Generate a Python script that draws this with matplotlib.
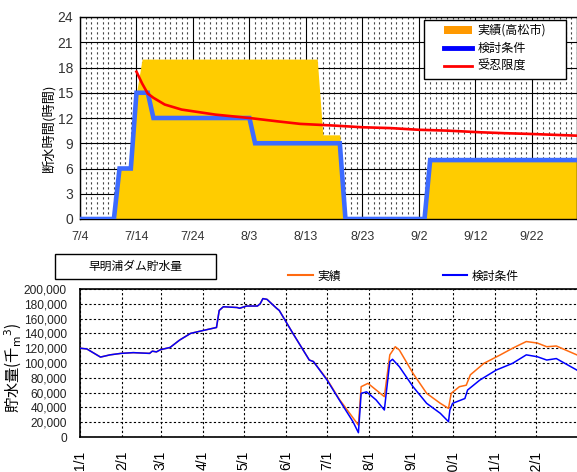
import matplotlib
matplotlib.use('Agg')
import matplotlib.pyplot as plt
from matplotlib import font_manager
from matplotlib.lines import Line2D
from matplotlib.patches import Patch, Rectangle

# 断水時間 (7/4 からの日数)
jisseki_day = [0, 6, 7, 9, 10, 11, 42, 43, 46, 47, 61, 62, 88]
jisseki_hour = [0, 0, 6, 6, 15, 19, 19, 10, 10, 0, 0, 7, 7]

kentou_day = [0, 6, 7, 9, 10, 12, 13, 30, 31, 46, 47, 61, 62, 88]
kentou_hour = [0, 0, 6, 6, 15, 15, 12, 12, 9, 9, 0, 0, 7, 7]

juninn_day = [10, 11, 12, 13, 14, 15, 16, 18, 21, 24, 27, 30, 35, 39, 45, 50, 55, 60, 65, 71, 75, 80, 88]
juninn_hour = [17.5, 16.1, 14.9, 14.4, 14.0, 13.6, 13.4, 13.0, 12.7, 12.4, 12.2, 12.0, 11.6, 11.3,
               11.1, 10.9, 10.8, 10.6, 10.5, 10.3, 10.2, 10.1, 9.9]

top_ticks = [0, 10, 20, 30, 40, 50, 60, 70, 80]
top_labels = ['7/4', '7/14', '7/24', '8/3', '8/13', '8/23', '9/2', '9/12', '9/22']

# 早明浦ダム貯水量 (1/1 からの日数, 千m3)
kentou_vol_day = [0, 5, 15, 22, 30, 39, 51, 53, 56, 59, 66, 73, 81, 88, 100, 102, 105, 115, 117,
                  122, 130, 132, 134, 137, 144, 146, 156, 168, 171, 181, 190, 200, 204, 206, 210,
                  217, 223, 227, 229, 234, 244, 254, 264, 270, 271, 273, 282, 284, 293, 305, 317,
                  327, 335, 342, 349, 364]
kentou_vol = [120000, 119000, 108000, 111000, 113000, 114000, 113000, 116000, 115000, 118000,
              121000, 131000, 140000, 143000, 148000, 171000, 176000, 175000, 174000, 177000,
              177000, 180000, 187000, 186000, 174000, 171000, 140000, 104000, 102000, 77000,
              50000, 20700, 5800, 59000, 61000, 50000, 36500, 102000, 105000, 95000, 68000,
              45500, 32000, 20700, 36500, 45500, 52000, 63500, 77000, 90500, 99600, 111000,
              108500, 104000, 106000, 90500]

jisseki_vol_day = [0, 5, 15, 22, 30, 39, 51, 53, 56, 59, 66, 73, 81, 88, 100, 102, 105, 115, 117,
                   122, 130, 132, 134, 137, 144, 146, 156, 168, 171, 181, 190, 196, 204, 206, 211,
                   217, 223, 227, 231, 234, 244, 254, 264, 270, 272, 278, 283, 286, 296, 308, 317,
                   327, 335, 342, 349, 364]
jisseki_vol = [120000, 119000, 108000, 111000, 113000, 114000, 113000, 116000, 115000, 118000,
               121000, 131000, 140000, 143000, 148000, 171000, 176000, 175000, 174000, 177000,
               177000, 180000, 187000, 186000, 174000, 171000, 140000, 104000, 102000, 78000,
               51000, 36000, 16000, 68000, 72500, 63500, 54500, 111000, 122000, 117500, 86000,
               59000, 45500, 38700, 59000, 68000, 70000, 84000, 99600, 111000, 120000, 129000,
               127000, 122000, 123000, 111000]

month_days = [0, 31, 59, 90, 120, 151, 181, 212, 243, 273, 304, 334]
month_labels = ['1/1', '2/1', '3/1', '4/1', '5/1', '6/1', '7/1', '8/1', '9/1', '10/1', '11/1', '12/1']

installed = {f.name for f in font_manager.fontManager.ttflist}
num_font = 'Liberation Sans Narrow' if 'Liberation Sans Narrow' in installed else 'Liberation Sans'
plt.rcParams['font.family'] = ['Noto Sans CJK JP', 'DejaVu Sans']

W, H = 577, 472
fig = plt.figure(figsize=(W / 100, H / 100), dpi=100)

def fx(px):
    return px / W

def fy(py):
    return 1 - py / H

# ---- 上段: 断水時間 ----
ax1 = fig.add_axes([fx(80), fy(219), 1 - fx(80), fy(17) - fy(219)])
ax1.set_axisbelow(True)
ax1.fill_between(jisseki_day, jisseki_hour, 0, color='#FFCC00', lw=0, zorder=1)
ax1.plot(kentou_day, kentou_hour, color='#3D6BFF', lw=3.3, solid_joinstyle='miter', zorder=3)
ax1.plot(juninn_day, juninn_hour, color='#FF0000', lw=1.9, zorder=4)

ax1.set_xlim(0, 88)
ax1.set_ylim(0, 24)
ax1.set_yticks(range(0, 25, 3))
ax1.set_xticks(top_ticks)
ax1.set_xticklabels(top_labels)
ax1.set_xticks(range(0, 89), minor=True)
ax1.grid(axis='x', which='minor', color='#444444', lw=0.8, ls=(0, (2, 2.5)))
ax1.grid(axis='x', which='major', color='black', lw=0.8)
ax1.grid(axis='y', which='major', color='black', lw=0.8)
ax1.tick_params(axis='x', which='major', direction='in', length=4, pad=9,
                labelsize=9, labelcolor='#333333', labelfontfamily=num_font)
ax1.tick_params(axis='x', which='minor', length=0)
ax1.tick_params(axis='y', length=0, pad=5, labelsize=10, labelcolor='#333333',
                labelfontfamily=num_font)
for s in ax1.spines.values():
    s.set_color('black')
    s.set_linewidth(1)
ax1.set_ylabel('断水時間(時間)', fontsize=9.5)
ax1.yaxis.set_label_coords(-0.05, 0.45)

top_handles = [Patch(fc='#FF9900', ec='none'),
               Line2D([], [], color='#0000FF', lw=3.5),
               Line2D([], [], color='#FF0000', lw=2)]
leg1 = ax1.legend(top_handles, ['実績(高松市)', '検討条件', '受忍限度'],
                  loc='upper left', bbox_to_anchor=(fx(444), fy(24)), bbox_transform=fig.transFigure,
                  frameon=False, fontsize=8.7, handlelength=2.3, handletextpad=0.5,
                  labelspacing=0.42, borderpad=0, borderaxespad=0)
leg1.set_zorder(6)
ax1.add_patch(Rectangle((fx(424), fy(79)), fx(566) - fx(424), fy(20) - fy(79),
                        transform=fig.transFigure, fc='white', ec='black', lw=1,
                        zorder=5, clip_on=False))

# ---- 下段: 早明浦ダム貯水量 ----
ax2 = fig.add_axes([fx(80), fy(437), 1 - fx(80) + 0.002, fy(289) - fy(437)])
ax2.plot(jisseki_vol_day, jisseki_vol, color='#FF6A10', lw=1.1, zorder=3)
ax2.plot(kentou_vol_day, kentou_vol, color='#0000FF', lw=1.1, zorder=4)
ax2.set_xlim(0, 365)
ax2.set_ylim(0, 200000)
ax2.set_yticks(range(0, 200001, 20000))
ax2.set_yticklabels([f'{v:,}' for v in range(0, 200001, 20000)])
ax2.set_xticks(month_days)
ax2.set_xticklabels(month_labels, rotation=90, va='top')
ax2.grid(color='black', lw=0.8, ls=(0, (2, 2)))
ax2.tick_params(axis='x', length=0, pad=10, labelsize=10, labelfontfamily=num_font)
ax2.tick_params(axis='y', length=0, pad=9.5, labelsize=8.6, labelcolor='#222222',
                labelfontfamily=num_font)
for s in ax2.spines.values():
    s.set_color('black')
    s.set_linewidth(1.2)
ax2.set_ylabel('貯水量(千$_\\mathrm{m}$$^3$)', fontsize=11)
ax2.yaxis.set_label_coords(-0.113, 0.47)

leg2 = ax2.legend([Line2D([], [], color='#FF6A10', lw=1.5)], ['実績'],
                  loc='center left', bbox_to_anchor=(fx(288), fy(276)), bbox_transform=fig.transFigure,
                  frameon=False, fontsize=8.5, handlelength=2.1, handletextpad=0.35,
                  borderpad=0, borderaxespad=0)
ax2.add_artist(leg2)
ax2.legend([Line2D([], [], color='#0000FF', lw=1.5)], ['検討条件'],
           loc='center left', bbox_to_anchor=(fx(443), fy(276)), bbox_transform=fig.transFigure,
           frameon=False, fontsize=8.5, handlelength=2.0, handletextpad=0.4,
           borderpad=0, borderaxespad=0)

fig.add_artist(Rectangle((fx(55), fy(279)), fx(216) - fx(55), fy(254) - fy(279),
                         transform=fig.transFigure, fc='white', ec='black', lw=1))
fig.text(fx(135.5), fy(266.5), '早明浦ダム貯水量', ha='center', va='center', fontsize=8.5)

fig.savefig('out.png', dpi=100)
